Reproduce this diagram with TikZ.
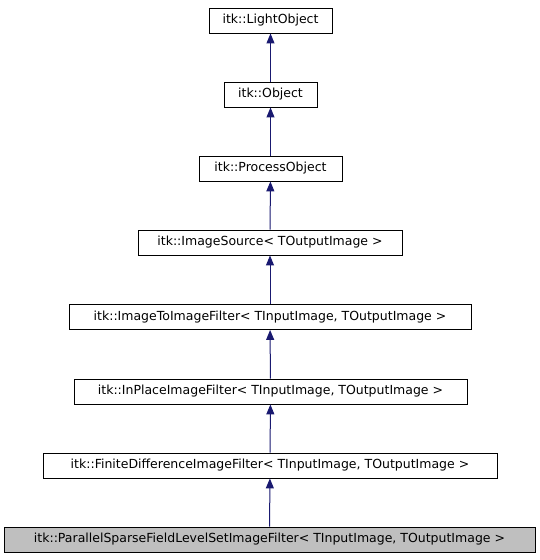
\documentclass[tikz,border=0pt]{standalone}
\usepackage{fontspec}
\setmainfont{DejaVu Sans}
\usetikzlibrary{arrows.meta}
\definecolor{edgeblue}{RGB}{25,25,112}
\begin{document}
\begin{tikzpicture}
      [ x = 1pt, y = -1pt
      , class/.style =
        { draw, line width = 0.9pt, fill = white, inner sep = 0pt, minimum height = 25pt, font = \fontsize{12.5}{14}\selectfont }
      , current/.style =
        { fill = black!25 }
      , edge/.style =
        { edgeblue, line width = 1pt, -{Triangle[length=10pt, width=8pt]} }
      ]
      \useasboundingbox (0, 0) rectangle (539, 560);
      \node [class, minimum width = 123pt] (light) at (270.5, 20.5) {itk::LightObject};
      \node [class, minimum width = 93pt] (object) at (270.5, 94.5) {itk::Object};
      \node [class, minimum width = 143pt] (process) at (270.5, 168.5) {itk::ProcessObject};
      \node [class, minimum width = 264pt] (source) at (270, 242.5) {itk::ImageSource< TOutputImage >};
      \node [class, minimum width = 402pt] (imagetoimage) at (270, 317) {itk::ImageToImageFilter< TInputImage, TOutputImage >};
      \node [class, minimum width = 393pt] (inplace) at (270.5, 391.5) {itk::InPlaceImageFilter< TInputImage, TOutputImage >};
      \node [class, minimum width = 454pt] (finite) at (270, 465.5) {itk::FiniteDifferenceImageFilter< TInputImage, TOutputImage >};
      \node [class, current, minimum width = 531pt] (parallel) at (269.5, 539.5) {itk::ParallelSparseFieldLevelSetImageFilter< TInputImage, TOutputImage >};
      \draw [edge] (object) to (light);
      \draw [edge] (process) to (object);
      \draw [edge] (source) to (process);
      \draw [edge] (imagetoimage) to (source);
      \draw [edge] (inplace) to (imagetoimage);
      \draw [edge] (finite) to (inplace);
      \draw [edge] (parallel) to (finite);
    \end{tikzpicture}
\end{document}
